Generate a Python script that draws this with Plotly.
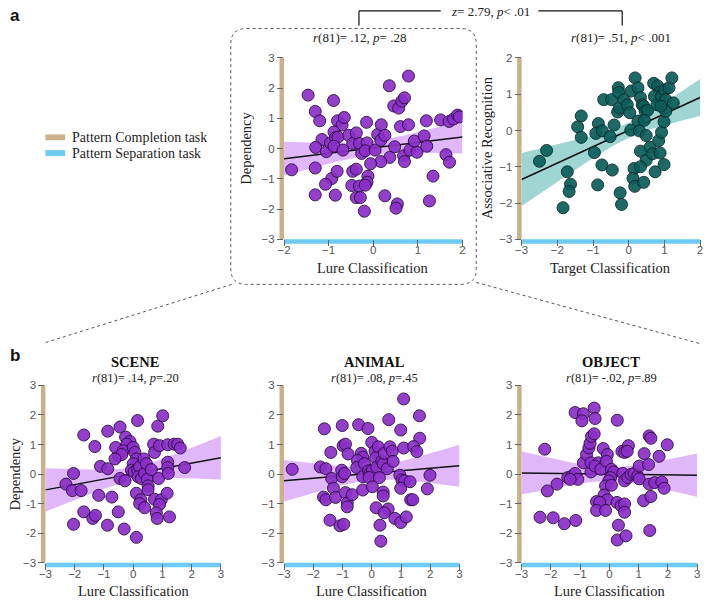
import numpy as np
import plotly.graph_objects as go

W, H = 708, 606

# ---------------- data ----------------
# Panel a-left: Lure Classification vs Dependency
a1_x = [-1.46,-1.30,-1.20,-0.89,-0.80,-0.70,-0.65,-1.15,-1.29,-1.05,-0.96,-0.88,-0.85,-0.79,-0.88,-0.68,
        -0.55,-0.46,-0.38,-0.31,-0.15,-0.14,-0.26,-0.18,0.04,0.10,0.18,0.17,0.26,0.36,0.46,0.57,0.64,0.70,
        0.79,0.61,0.79,0.48,0.37,0.17,-0.06,-1.83,-1.30,-0.93,-1.07,-0.81,-0.46,-0.38,-0.48,-0.31,-0.12,
        -0.14,-0.18,-1.30,-0.85,-0.38,-0.29,-0.20,0.26,0.54,0.51,0.68,0.70,0.82,0.98,0.92,1.14,1.20,1.19,
        1.34,1.26,1.51,1.63,1.71,1.70,1.80,1.89,1.93]
a1_y = [1.77,1.23,0.92,1.59,0.92,0.78,1.03,0.30,0.04,-0.10,0.19,0.55,0.36,0.38,0.08,-0.05,
        0.44,0.17,0.52,0.17,0.87,0.19,-0.16,-0.07,-0.05,0.47,0.79,0.28,0.44,2.08,1.41,1.34,1.57,1.68,
        2.40,0.73,0.79,0.06,-0.29,-0.43,-0.50,-0.70,-0.64,-0.99,-1.18,-0.75,-0.75,-0.68,-1.22,-1.24,-0.91,
        -1.11,-1.21,-1.53,-1.54,-1.62,-1.62,-2.07,-1.56,-1.83,-1.97,-0.24,-0.43,-0.05,-0.12,0.25,0.42,0.08,0.92,
        -0.91,-1.73,0.95,-0.20,-0.45,0.90,0.98,1.11,1.05]

# Panel a-right: Target Classification vs Associative Recognition
a2_x = [-2.50,-2.30,-1.72,-1.63,-1.67,-1.84,-1.33,-1.43,-1.33,-0.85,-0.92,-0.74,-0.96,-0.75,-0.87,-0.70,
        -0.48,-0.52,-0.41,-0.46,-0.29,-0.28,-0.31,-0.26,-0.13,-0.04,0.03,-0.24,-0.20,0.06,0.07,0.18,0.26,
        0.33,0.38,0.26,0.30,0.42,0.46,0.53,0.44,0.49,0.33,0.49,0.15,0.33,0.12,0.17,0.42,0.60,0.67,0.74,
        0.84,0.92,0.88,0.99,0.99,1.04,0.70,0.81,0.86,0.72,0.79,0.92,1.01,1.13,1.21,1.04,1.25,0.90]
a2_y = [-0.85,-0.55,-1.14,-1.48,-1.68,-2.13,0.40,0.10,-0.19,0.19,-0.08,-0.01,-0.61,-0.95,-1.50,0.85,
        0.85,-0.17,0.15,-1.09,1.18,1.05,0.51,0.62,0.85,0.71,0.49,-1.72,-2.04,0.01,1.09,1.45,1.18,
        0.91,0.71,0.26,-0.01,0.67,0.53,0.55,0.28,-0.14,-0.57,-0.82,-1.05,-1.00,-1.32,-1.54,-1.43,-0.46,-0.64,-1.14,
        -0.28,-0.05,-0.62,-0.94,0.24,0.53,1.30,1.23,1.05,0.94,0.71,0.94,1.12,1.18,1.45,0.85,0.76,0.67]

# Panel b: SCENE
sc_x = [-2.30,-2.04,-2.08,-1.78,-1.69,-1.31,-1.69,-2.04,-1.38,-1.29,-1.18,-1.12,-0.87,-0.87,-0.73,-0.88,
        -0.45,-0.51,-0.31,0.11,-0.51,-0.60,-0.45,-0.28,-0.26,-0.11,-0.22,-0.34,-0.39,0.00,0.06,0.11,0.00,
        -0.06,0.03,0.15,0.22,0.17,0.28,0.39,0.37,0.45,0.48,0.51,0.51,0.15,0.11,0.26,0.22,0.39,0.62,0.70,
        0.73,0.90,0.84,1.01,0.87,0.73,0.96,0.90,0.79,0.82,1.16,1.24,1.18,1.18,1.20,1.18,1.40,1.52,1.61,1.76,-0.62]
sc_y = [-0.34,0.02,-0.56,-0.56,1.32,0.93,-1.28,-1.70,-1.50,-1.40,-0.72,0.26,0.18,1.45,-0.78,-1.73,
        1.59,-1.28,-1.86,-2.14,0.62,0.90,-0.15,-0.23,1.25,1.10,1.01,0.79,0.66,0.90,0.73,0.51,0.35,
        0.13,0.07,0.15,0.24,-0.09,-0.15,0.02,0.51,0.35,-0.18,-0.40,-0.53,1.81,-0.65,-0.87,-1.00,-1.14,0.15,1.01,
        0.73,0.96,1.62,1.97,-0.15,-0.85,-0.87,-1.03,-1.31,-1.50,-0.65,-1.45,0.40,0.22,0.02,0.99,1.01,1.01,0.88,0.22,0.51]

# Panel b: ANIMAL
an_x = [-2.72,-1.76,-1.57,-1.62,-1.37,-1.40,-1.31,-1.65,-1.57,-1.24,-1.43,-1.09,-0.96,-1.01,-1.03,-1.01,
        -0.93,-0.98,-0.90,-0.81,-0.90,-0.84,-0.84,-0.67,-0.45,-0.13,-0.36,-0.31,-0.49,-0.51,-0.25,-0.31,
        -0.31,-0.11,-0.06,0.02,-0.09,0.00,0.11,0.22,0.13,0.17,0.26,0.02,0.34,0.39,0.43,0.53,0.62,0.70,0.73,
        0.58,0.39,0.39,0.15,0.56,0.43,0.28,0.31,0.79,0.99,1.18,0.99,1.09,1.09,0.96,1.03,1.12,0.99,1.31,
        1.63,1.64,1.43,1.54,1.33,1.40,1.90,1.99]
an_y = [0.16,0.24,0.18,1.53,-0.15,0.73,-0.48,-0.78,-0.87,-0.79,-1.56,-1.75,-1.70,1.64,0.13,-0.09,
        0.02,0.96,1.01,0.68,-0.63,-0.98,-1.11,-0.70,1.67,1.54,0.70,0.57,0.46,0.22,0.35,-0.09,
        -0.54,0.11,0.02,0.13,-0.12,1.07,0.77,0.92,0.55,0.24,-0.12,-0.43,0.44,0.35,0.70,0.18,0.92,0.77,0.43,
        1.84,-0.61,-0.74,-1.14,-1.18,-1.31,-1.73,-2.27,-1.50,-1.64,-1.45,1.49,2.54,0.88,-0.04,-0.20,-0.23,-0.48,-0.26,
        1.97,1.21,0.93,0.76,-0.87,-0.87,-0.50,-0.04]

# Panel b: OBJECT
ob_x = [-2.21,-2.12,-2.37,-1.92,-1.79,-1.54,-1.15,-1.42,-1.28,-1.17,-1.08,-1.34,-1.17,-0.89,-0.94,-0.52,
        -0.49,-0.89,-0.63,-0.78,-0.70,-0.66,-0.61,-0.52,-0.63,-0.38,-0.49,-0.29,-0.21,-0.07,-0.10,0.07,0.15,
        0.04,-0.02,-0.13,0.07,-0.18,-0.07,-0.44,-0.33,-0.44,-0.13,0.27,0.43,0.52,0.65,0.61,0.26,0.40,0.52,
        0.52,0.31,0.27,0.57,0.46,0.52,0.63,0.74,0.85,0.97,1.02,1.02,1.19,1.34,1.17,1.36,1.42,1.42,1.38,
        1.36,1.55,1.70,1.79,1.87,1.98]
ob_y = [0.84,-0.57,-1.46,-1.48,-0.34,-1.68,-1.57,-0.12,-0.07,0.02,-0.18,-0.18,2.08,2.04,1.80,2.23,
        1.88,0.38,0.07,0.66,0.88,1.04,1.27,1.36,0.38,0.38,0.27,0.16,0.86,0.66,0.43,0.16,0.07,
        -0.12,-0.23,-0.40,-0.38,-0.71,-0.87,-0.93,-0.96,-1.23,-1.23,1.82,0.77,0.73,0.96,0.77,-0.96,-1.07,-1.01,
        -1.29,-1.73,-2.23,-2.09,0.02,-0.23,-0.12,-0.01,0.02,-0.07,-0.16,0.27,0.69,0.32,-0.90,1.29,1.21,-0.76,-1.91,
        -0.34,-0.29,0.60,-0.27,-0.48,0.99]

ticks_2 = [-2, -1, 0, 1, 2]
ticks_3 = [-3, -2, -1, 0, 1, 2, 3]
ticks_3b = [-3, -2, -1, 0, 1, 2]

# ---------------- styling ----------------
SERIF = "Liberation Serif"
SANS = "Liberation Sans"
TAN = "#c9b189"
BLUE = "#6ecbf3"
PURPLE = "#8a2fc8"
PURPLE_LINE = "#2e0b45"
PURPLE_BAND = "rgba(214,160,248,0.75)"
TEAL = "#0c5d5a"
TEAL_LINE = "#062b2a"
TEAL_BAND = "rgba(95,185,180,0.6)"


def px(x):
    return x / W


def py(y):
    return 1 - y / H


fig = go.Figure()

panels = [
    dict(x=a1_x, y=a1_y, xr=[-2, 2], yr=[-3, 3], xt=ticks_2, yt=ticks_3,
         dx=(281, 462), dy=(53, 238), fill=PURPLE, line=PURPLE_LINE, band=PURPLE_BAND),
    dict(x=a2_x, y=a2_y, xr=[-3, 2], yr=[-3, 2], xt=ticks_3b, yt=ticks_3b,
         dx=(522, 703), dy=(53, 238), fill=TEAL, line=TEAL_LINE, band=TEAL_BAND),
    dict(x=sc_x, y=sc_y, xr=[-3, 3], yr=[-3, 3], xt=ticks_3, yt=ticks_3,
         dx=(39, 217), dy=(387, 568), fill=PURPLE, line=PURPLE_LINE, band=PURPLE_BAND),
    dict(x=an_x, y=an_y, xr=[-3, 3], yr=[-3, 3], xt=ticks_3, yt=ticks_3,
         dx=(281, 459), dy=(387, 568), fill=PURPLE, line=PURPLE_LINE, band=PURPLE_BAND),
    dict(x=ob_x, y=ob_y, xr=[-3, 3], yr=[-3, 3], xt=ticks_3, yt=ticks_3,
         dx=(522, 700), dy=(387, 568), fill=PURPLE, line=PURPLE_LINE, band=PURPLE_BAND),
]

shapes = []
layout_axes = {}
for i, p in enumerate(panels, start=1):
    xa = "x" if i == 1 else f"x{i}"
    ya = "y" if i == 1 else f"y{i}"
    xk = "xaxis" if i == 1 else f"xaxis{i}"
    yk = "yaxis" if i == 1 else f"yaxis{i}"
    xs = np.array(p["x"])
    ys = np.array(p["y"])
    n = len(xs)
    b, a = np.polyfit(xs, ys, 1)
    grid = np.linspace(p["xr"][0], p["xr"][1], 60)
    pred = a + b * grid
    resid = ys - (a + b * xs)
    s = np.sqrt(np.sum(resid ** 2) / (n - 2))
    sxx = np.sum((xs - xs.mean()) ** 2)
    se = s * np.sqrt(1.0 / n + (grid - xs.mean()) ** 2 / sxx)
    t = 1.99
    lo, hi = pred - t * se, pred + t * se

    fig.add_trace(go.Scatter(x=grid, y=lo, mode="lines", line=dict(width=0),
                             xaxis=xa, yaxis=ya, showlegend=False, hoverinfo="skip"))
    fig.add_trace(go.Scatter(x=grid, y=hi, mode="lines", line=dict(width=0), fill="tonexty",
                             fillcolor=p["band"], xaxis=xa, yaxis=ya, showlegend=False,
                             hoverinfo="skip"))
    fig.add_trace(go.Scatter(x=grid, y=pred, mode="lines", line=dict(color="#111111", width=1.5),
                             xaxis=xa, yaxis=ya, showlegend=False, hoverinfo="skip"))
    fig.add_trace(go.Scatter(x=xs, y=ys, mode="markers", xaxis=xa, yaxis=ya, showlegend=False,
                             marker=dict(size=12, color=p["fill"], opacity=0.92,
                                         line=dict(color=p["line"], width=1))))

    common = dict(showgrid=False, zeroline=False, showline=False, ticks="outside",
                  ticklen=6, tickwidth=1, tickcolor="#666666",
                  tickfont=dict(family=SANS, size=11.5, color="#555555"))
    layout_axes[xk] = dict(domain=[px(p["dx"][0]), px(p["dx"][1])], range=p["xr"],
                           tickvals=p["xt"], anchor=ya, fixedrange=True,
                           ticklabelstandoff=-6, **common)
    yextra = {}
    if i == 3:
        yextra = dict(ticktext=["\u22123", "-2", "-1", "0", "1", "2", "3"])
    layout_axes[yk] = dict(domain=[py(p["dy"][1]), py(p["dy"][0])], range=p["yr"],
                           tickvals=p["yt"], anchor=xa, fixedrange=True, **common, **yextra)

    shapes.append(dict(type="rect", xref=f"{xa} domain", yref=f"{ya} domain",
                       xsizemode="pixel", xanchor=0, x0=-4.5, x1=0, y0=0, y1=1,
                       fillcolor=TAN, line=dict(width=0), layer="below"))
    shapes.append(dict(type="rect", xref=f"{xa} domain", yref=f"{ya} domain",
                       ysizemode="pixel", yanchor=0, y0=-4.5, y1=0, x0=0, x1=1,
                       fillcolor=BLUE, line=dict(width=0), layer="below"))

# dotted rounded box around panel a-left
bx0, by0, bx1, by1, r = 227, 23, 476, 284, 16
path = (f"M {px(bx0 + r)},{py(by0)} L {px(bx1 - r)},{py(by0)} "
        f"Q {px(bx1)},{py(by0)} {px(bx1)},{py(by0 + r)} L {px(bx1)},{py(by1 - r)} "
        f"Q {px(bx1)},{py(by1)} {px(bx1 - r)},{py(by1)} L {px(bx0 + r)},{py(by1)} "
        f"Q {px(bx0)},{py(by1)} {px(bx0)},{py(by1 - r)} L {px(bx0)},{py(by0 + r)} "
        f"Q {px(bx0)},{py(by0)} {px(bx0 + r)},{py(by0)} Z")
dot = dict(color="#555555", width=1, dash="dot")
shapes.append(dict(type="path", xref="paper", yref="paper", path=path, line=dot))
shapes.append(dict(type="line", xref="paper", yref="paper", x0=px(228), y0=py(284),
                   x1=px(37), y1=py(344), line=dot))
shapes.append(dict(type="line", xref="paper", yref="paper", x0=px(476), y0=py(282),
                   x1=px(705), y1=py(345), line=dot))

# bracket on top
br = dict(color="#111111", width=1.2)
shapes.append(dict(type="line", xref="paper", yref="paper", x0=px(357), y0=py(20), x1=px(357), y1=py(5), line=br))
shapes.append(dict(type="line", xref="paper", yref="paper", x0=px(357), y0=py(5), x1=px(440), y1=py(5), line=br))
shapes.append(dict(type="line", xref="paper", yref="paper", x0=px(539), y0=py(5), x1=px(624), y1=py(5), line=br))
shapes.append(dict(type="line", xref="paper", yref="paper", x0=px(624), y0=py(5), x1=px(624), y1=py(20), line=br))

# legend swatches
shapes.append(dict(type="rect", xref="paper", yref="paper", x0=px(39), x1=px(59), y0=py(137), y1=py(131),
                   fillcolor=TAN, line=dict(width=0)))
shapes.append(dict(type="rect", xref="paper", yref="paper", x0=px(39), x1=px(59), y0=py(153), y1=py(147),
                   fillcolor=BLUE, line=dict(width=0)))

annotations = []


def txt(x, y, text, size=14, family=SERIF, xanchor="center", angle=0, color="#222222", bold=False):
    if bold:
        text = f"<b>{text}</b>"
    annotations.append(dict(x=px(x), y=py(y), xref="paper", yref="paper", text=text, showarrow=False,
                            xanchor=xanchor, yanchor="middle", textangle=angle,
                            font=dict(family=family, size=size, color=color)))


txt(8, 10, "a", size=17, family=SANS, bold=True, color="#111111")
txt(8, 357, "b", size=17, family=SANS, bold=True, color="#111111")
txt(490, 6, "<i>z</i>= 2.79, <i>p</i>< .01", size=13)
txt(358, 32, "<i>r</i>(81)= .12, <i>p</i>= .28", size=13)
txt(623, 32, "<i>r</i>(81)= .51, <i>p</i>< .001", size=13)
txt(371, 267, "Lure Classification", size=14.5)
txt(612, 267, "Target Classification", size=14.5)
txt(243, 145, "Dependency", size=14.5, angle=-90)
txt(487, 145, "Associative Recognition", size=14.5, angle=-90)
txt(64, 134, "Pattern Completion task", size=14, xanchor="left")
txt(64, 150, "Pattern Separation task", size=14, xanchor="left")

for cx, name, stat in [(130, "SCENE", "<i>r</i>(81)= .14, <i>p</i>=.20"),
                       (373, "ANIMAL", "<i>r</i>(81)= .08, <i>p</i>=.45"),
                       (613, "OBJECT", "<i>r</i>(81)= -.02, <i>p</i>=.89")]:
    txt(cx, 363, name, size=14.5, bold=True, color="#111111")
    txt(cx, 380, stat, size=12.5)
for cx in (128, 370, 611):
    txt(cx, 597, "Lure Classification", size=14.5)
txt(8, 477, "Dependency", size=14.5, angle=-90)

fig.update_layout(width=W, height=H, margin=dict(l=0, r=0, t=0, b=0),
                  paper_bgcolor="white", plot_bgcolor="white",
                  shapes=shapes, annotations=annotations, showlegend=False, **layout_axes)

fig.write_html("out.html", config={"displayModeBar": False},
               post_script="document.body.style.margin='0';document.body.style.padding='0';"
                           "document.body.style.overflow='hidden';")
